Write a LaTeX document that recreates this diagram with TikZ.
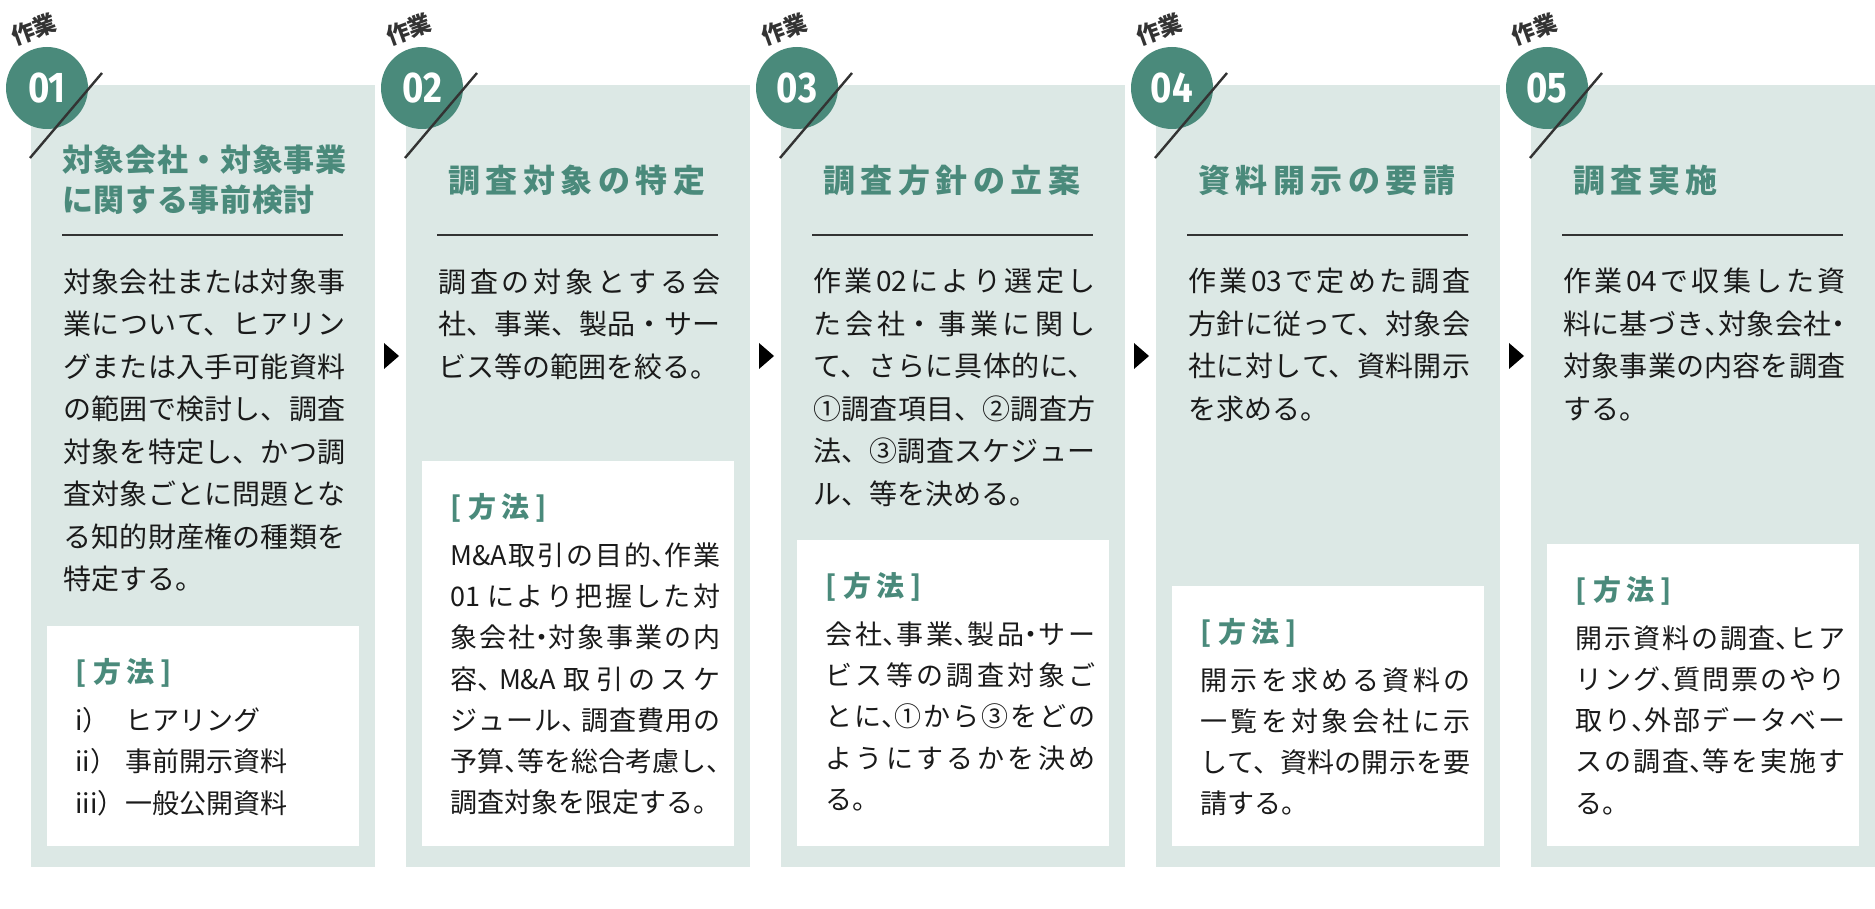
\documentclass[tikz,border=0pt]{standalone}
\usepackage{fontspec}
\setmainfont{Noto Sans CJK JP}
\newfontfamily\ttlfont{Noto Sans CJK JP}[LetterSpace=17]
\newfontfamily\ttlfontn{Noto Sans CJK JP}[LetterSpace=2]
\newfontfamily\numfont{Fira Sans}[FakeStretch=0.85]
\XeTeXlinebreaklocale "ja"
\XeTeXlinebreakskip=0pt plus 4pt minus 0.5pt
\tolerance=9999
\definecolor{mygreen}{HTML}{4A8A7B}
\definecolor{paneltint}{HTML}{DCE8E5}
\definecolor{inkgray}{HTML}{333333}
\definecolor{textblack}{HTML}{1A1A1A}
\newcommand\hten{\makebox[.5em][l]{、}}
\newcommand\hdot{\makebox[.5em][c]{・}}

\begin{document}
\begin{tikzpicture}[x=0.5pt,y=-0.5pt,
    panel/.style={fill=paneltint},
    methodbox/.style={fill=white},
    badge/.style={circle,fill=mygreen,inner sep=0pt,minimum size=41pt,text=white,
      font=\numfont\bfseries\fontsize{21.5pt}{21.5pt}\selectfont},
    sagyo/.style={rotate=20,inner sep=0pt,text=inkgray,font=\bfseries\fontsize{11.5pt}{11.5pt}\selectfont},
    slash/.style={draw=inkgray,line width=1.2pt},
    divider/.style={draw=inkgray,line width=0.7pt},
    ttl/.style={anchor=west,inner sep=0pt,text=mygreen,
      font=\ttlfont\bfseries\fontsize{16pt}{20pt}\selectfont},
    body/.style={anchor=north west,inner sep=0pt,text width=141pt,align=justify,text=textblack,
      font=\fontsize{14pt}{21.25pt}\selectfont},
    hohotag/.style={anchor=west,inner sep=0pt,text=mygreen,font=\bfseries\fontsize{14pt}{14pt}\selectfont},
    boxtext/.style={anchor=north west,inner sep=0pt,text width=135pt,align=justify,text=textblack,
      font=\fontsize{13.5pt}{20.65pt}\selectfont},
  ]
  \useasboundingbox (0,0) rectangle (1875,909);

  % five steps: panel, badge, divider, method box
  \foreach \i/\x/\top in {1/0/626,2/375/461,3/750/540,4/1125/586,5/1500/544} {
    \fill[panel] (\x+31,85) rectangle (\x+375,867);
    \node[badge] (b\i) at (\x+47,88) {0\i};
    \draw[slash] (\x+102,73) -- (\x+30,158);
    \node[sagyo] (w\i) at (\x+34,29) {作業};
    \draw[divider] (\x+62,235) -- (\x+343,235);
    \fill[methodbox] (\x+47,\top) rectangle (\x+359,846);
    \node[hohotag] (m\i) at (\x+75,\top+47) {[\hspace{3.5pt}方\hspace{2.5pt}法\hspace{3pt}]};
  }

  % arrows between the steps
  \foreach \x in {0,375,750,1125}
    \fill[black] (\x+384,343) -- (\x+399,356) -- (\x+384,369) -- cycle;

  % titles
  \node[ttl,align=left,font=\ttlfontn\bfseries\fontsize{15.5pt}{20pt}\selectfont] (t1) at (62,180)
    {対象会社・対象事業\\に関する事前検討};
  \node[ttl] (t2) at (448,180) {調査対象の特定};
  \node[ttl] (t3) at (823,180) {調査方針の立案};
  \node[ttl] (t4) at (1198,180) {資料開示の要請};
  \node[ttl] (t5) at (1573,180) {調査実施};

  % descriptions
  \node[body] (d1) at (63,268) {対象会社または対象事\linebreak
    業について、ヒアリン\linebreak
    グまたは入手可能資料\linebreak
    の範囲で検討し、調査\linebreak
    対象を特定し、かつ調\linebreak
    査対象ごとに問題とな\linebreak
    る知的財産権の種類を\linebreak
    特定する。};
  \node[body] (d2) at (438,268) {調査の対象とする会\linebreak
    社、事業、製品・サー\linebreak
    ビス等の範囲を絞る。};
  \node[body] (d3) at (813,268) {作業02により選定し\linebreak
    た会社・事業に関し\linebreak
    て、さらに具体的に、\linebreak
    ①調査項目、②調査方\linebreak
    法、③調査スケジュー\linebreak
    ル、等を決める。};
  \node[body] (d4) at (1188,268) {作業03で定めた調査\linebreak
    方針に従って、対象会\linebreak
    社に対して、資料開示\linebreak
    を求める。};
  \node[body] (d5) at (1563,268) {作業04で収集した資\linebreak
    料に基づき\hten 対象会社\hdot\linebreak
    対象事業の内容を調査\linebreak
    する。};

  % methods
  \node[boxtext,align=left] (x1) at (75,707) {\makebox[1.85em][l]{i）}ヒアリング\\
    \makebox[1.85em][l]{ii）}事前開示資料\\
    \makebox[1.85em][l]{iii）}一般公開資料};
  \node[boxtext] (x2) at (450,542) {M\&A取引の目的\hten 作業\linebreak
    01 により把握した対\linebreak
    象会社\hdot 対象事業の内\linebreak
    容\hten{} M\&A 取引のスケ\linebreak
    ジュール\hten{} 調査費用の\linebreak
    予算\hten 等を総合考慮し\hten\linebreak
    調査対象を限定する。};
  \node[boxtext] (x3) at (825,621) {会社\hten 事業\hten 製品\hdot サー\linebreak
    ビス等の調査対象ご\linebreak
    とに\hten ①から③をどの\linebreak
    ようにするかを決め\linebreak
    る。};
  \node[boxtext] (x4) at (1200,667) {開示を求める資料の\linebreak
    一覧を対象会社に示\linebreak
    して、資料の開示を要\linebreak
    請する。};
  \node[boxtext] (x5) at (1575,625) {開示資料の調査\hten ヒア\linebreak
    リング\hten 質問票のやり\linebreak
    取り\hten 外部データベー\linebreak
    スの調査\hten 等を実施す\linebreak
    る。};
\end{tikzpicture}
\end{document}
